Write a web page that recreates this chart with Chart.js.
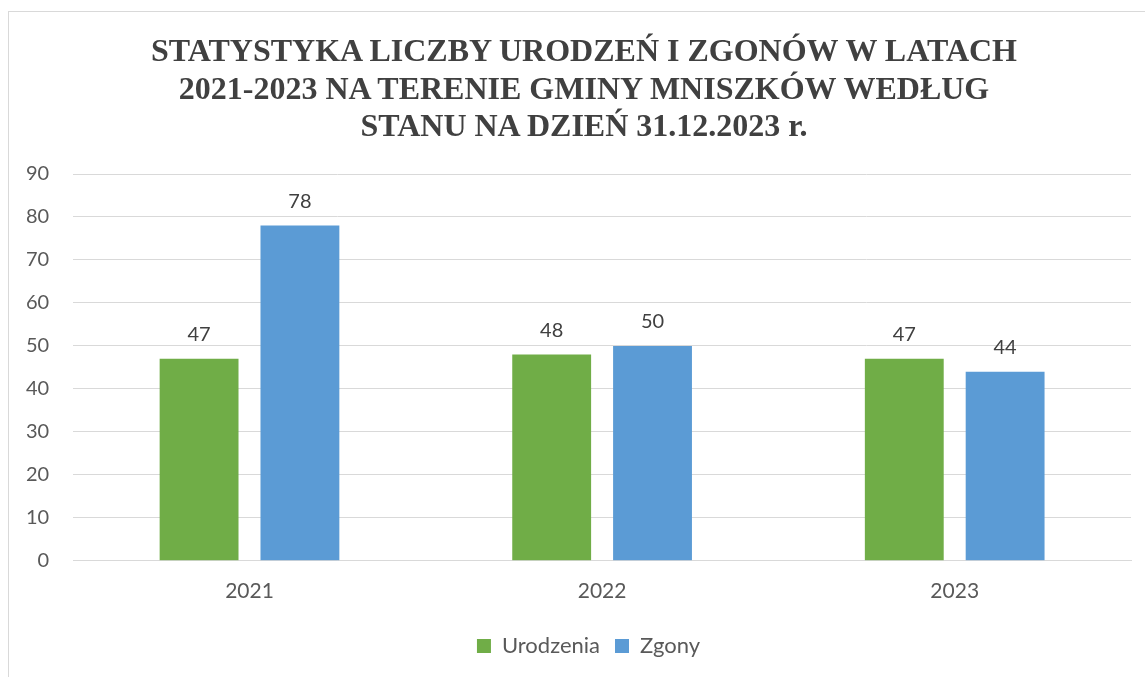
<!DOCTYPE html>
<html>
<head>
<meta charset="utf-8">
<script src="https://cdn.jsdelivr.net/npm/chart.js@4"></script>
<style>
  html, body { margin: 0; padding: 0; background: #fff; overflow: hidden; }
  #box {
    position: absolute; left: 8px; top: 11px;
    width: 1150px; height: 700px;
    border: 1px solid #d9d9d9; background: #fff;
  }
  #box canvas { position: absolute; left: -7px; top: 0; display: block; }
  #title {
    position: absolute; left: 75px; top: 20px; width: 1000px;
    text-align: center; color: #404040;
    font: bold 32px/37.5px 'Liberation Serif', 'Times New Roman', serif;
  }
</style>
</head>
<body>
<div id="box">
  <canvas id="chart" width="1150" height="665"></canvas>
  <div id="title"></div>
</div>
<script>
// chart data
const years = ['2021', '2022', '2023'];
const urodzenia = [47, 48, 47];
const zgony = [78, 50, 44];
const titleLines = [
  'STATYSTYKA LICZBY URODZEŃ I ZGONÓW W LATACH',
  '2021-2023 NA TERENIE GMINY MNISZKÓW WEDŁUG',
  'STANU NA DZIEŃ 31.12.2023 r.'
];

document.getElementById('title').innerHTML = titleLines.join('<br>');

// draw the value above each bar
const valueLabels = {
  id: 'valueLabels',
  afterDatasetsDraw(chart) {
    const ctx = chart.ctx;
    ctx.save();
    ctx.font = '20px Lato';
    ctx.fillStyle = '#404040';
    ctx.textAlign = 'center';
    ctx.textBaseline = 'alphabetic';
    chart.data.datasets.forEach((ds, i) => {
      chart.getDatasetMeta(i).data.forEach((bar, j) => {
        ctx.fillText(ds.data[j], bar.x, bar.y - 18);
      });
    });
    ctx.restore();
  }
};

// legend sits a bit right of the plot centre in the original
const legendShift = {
  id: 'legendShift',
  afterLayout(chart) {
    chart.legend.left += 22;
    chart.legend.right += 22;
    chart.legend.top -= 2;
    chart.legend.bottom -= 2;
  }
};

new Chart(document.getElementById('chart'), {
  type: 'bar',
  data: {
    labels: years,
    datasets: [
      { label: 'Urodzenia', data: urodzenia, backgroundColor: '#70ad47' },
      { label: 'Zgony', data: zgony, backgroundColor: '#5b9bd5' }
    ]
  },
  options: {
    responsive: false,
    animation: false,
    categoryPercentage: 0.572,
    barPercentage: 0.782,
    layout: { padding: { left: 0, right: 21, bottom: 8, top: 162 } },
    scales: {
      x: {
        grid: { display: false, drawTicks: false },
        border: { color: '#d9d9d9' },
        ticks: { color: '#595959', font: { family: 'Lato', size: 21 }, padding: 18 }
      },
      y: {
        min: 0, max: 90,
        ticks: { stepSize: 10, color: '#595959', font: { family: 'Lato', size: 20 }, padding: 24 },
        grid: { color: '#d9d9d9', drawTicks: false },
        border: { display: false }
      }
    },
    plugins: {
      legend: {
        position: 'bottom',
        labels: {
          color: '#595959',
          font: { family: 'Lato', size: 22 },
          boxWidth: 14, boxHeight: 14,
          padding: 15
        }
      },
      tooltip: { enabled: false }
    }
  },
  plugins: [valueLabels, legendShift]
});
</script>
</body>
</html>
